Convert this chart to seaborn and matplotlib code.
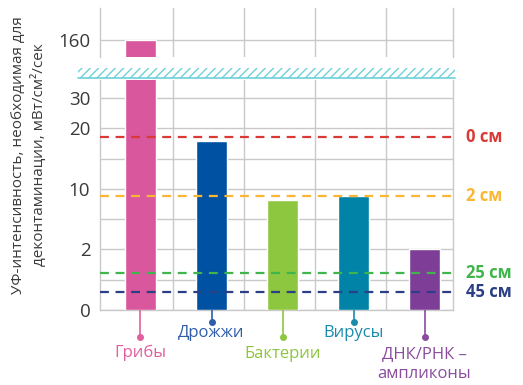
import numpy as np
import pandas as pd
import seaborn as sns
import matplotlib.pyplot as plt
from matplotlib.patches import Rectangle
from matplotlib.lines import Line2D

# data
categories = ["Грибы", "Дрожжи", "Бактерии", "Вирусы", "ДНК/РНК –\nампликоны"]
values = [160, 17.9, 8.5, 9.1, 2.0]
bar_colors = ["#d9579c", "#0051a1", "#8dc63f", "#0083a6", "#7e3e97"]
text_colors = ["#e0609f", "#2e5eaa", "#8dc63f", "#1a8bab", "#8a4c9d"]
label_drop = [-0.187, -0.10, -0.19, -0.10, -0.235]
dot_drop = [-0.117, -0.052, -0.117, -0.052, -0.117]

distances = ["0 см", "2 см", "25 см", "45 см"]
distance_values = [18.65, 9.1, 1.21, 0.6]
distance_colors = ["#d93a35", "#fbb733", "#3fb54c", "#2c3f86"]

lower_ticks = [0, 2, 10, 20, 30]
upper_ticks = [160]

# piecewise y scale: 0,2,10,20,30 roughly equally spaced
knots_v = [0, 2, 10, 20, 30, 40]
knots_u = [0, 1, 2, 3, 3.5, 4.0]
def fwd(v):
    return np.interp(v, knots_v, knots_u)
def inv(u):
    return np.interp(u, knots_u, knots_v)

df = pd.DataFrame({"cat": categories, "val": values})

sns.set_theme(style="white")
plt.rcParams["font.family"] = ["Open Sans", "DejaVu Sans"]

fig = plt.figure(figsize=(5.23, 3.85), dpi=100)
ax = fig.add_axes([100/523, 1-310/385, 353/523, 230/385])
axu = fig.add_axes([100/523, 1-57/385, 353/523, 49/385])

grid_c = "#c9c9c9"
for a in (ax, axu):
    sns.barplot(data=df, x="cat", y="val", hue="cat", palette=bar_colors,
                width=0.43, ax=a, legend=False, saturation=1, zorder=3)
    a.set_xlim(-0.57, 4.4)
    a.set_xlabel("")
    a.set_ylabel("")
    a.set_xticks([])
    for i in range(4):
        a.axvline(i + 0.46, color=grid_c, lw=1, zorder=0)
    for s in ["top", "bottom"]:
        a.spines[s].set_visible(False)
    for s in ["left", "right"]:
        a.spines[s].set_color(grid_c)
        a.spines[s].set_linewidth(1)
    a.tick_params(axis="y", length=0, labelsize=13.5, labelcolor="#3a3a3a", pad=7)

ax.set_yscale("function", functions=(fwd, inv))
ax.set_ylim(0, inv(3.8))
ax.set_yticks(lower_ticks)
ax.set_yticklabels([str(t) for t in lower_ticks])
ax.set_yticks([inv(0.5), inv(1.5), inv(2.5)], minor=True)
ax.tick_params(axis="y", which="minor", length=0)
ax.yaxis.grid(True, which="both", color=grid_c, lw=1, zorder=0)
ax.axhline(0, color=grid_c, lw=1, zorder=0, clip_on=False)

axu.set_ylim(150, 178.8)
axu.set_yticks(upper_ticks)
axu.yaxis.grid(True, color=grid_c, lw=1, zorder=0)

# distance lines
for name, v, c in zip(distances, distance_values, distance_colors):
    ax.plot([-0.57, 4.45], [v, v], ls=(0, (4, 3)), color=c, lw=1.6,
            zorder=4, clip_on=False)
    ax.text(4.58, v, name, color=c, fontsize=12, fontweight="bold",
            va="center", ha="left")

# category labels with stems
trans = ax.get_xaxis_transform()
for i, (cat, tc, ld, dd) in enumerate(zip(categories, text_colors, label_drop, dot_drop)):
    ax.plot([i, i], [0, dd], color=tc, lw=1.2, transform=trans, clip_on=False)
    ax.plot([i], [dd], "o", color=tc, ms=4, transform=trans, clip_on=False)
    ax.text(i, ld, cat, color=tc, fontsize=12, ha="center", va="center",
            transform=trans, linespacing=1.35)

# axis break
fig.patches.append(Rectangle((78/523, 1-78/385), 377/523, 10/385,
                             transform=fig.transFigure, fill=False,
                             edgecolor="#6fd0da", hatch="////", lw=0))
fig.lines.append(Line2D([78/523, 455/523], [1-78/385, 1-78/385],
                        transform=fig.transFigure, color="#6fd0da", lw=1.2))

fig.text(0.056, 1-155/385,
         "УФ-интенсивность, необходимая для\nдеконтаминации, мВт/см²/сек",
         rotation=90, ha="center", va="center", fontsize=11, color="#3a3a3a",
         linespacing=1.4)

plt.savefig("out.png", dpi=100)
